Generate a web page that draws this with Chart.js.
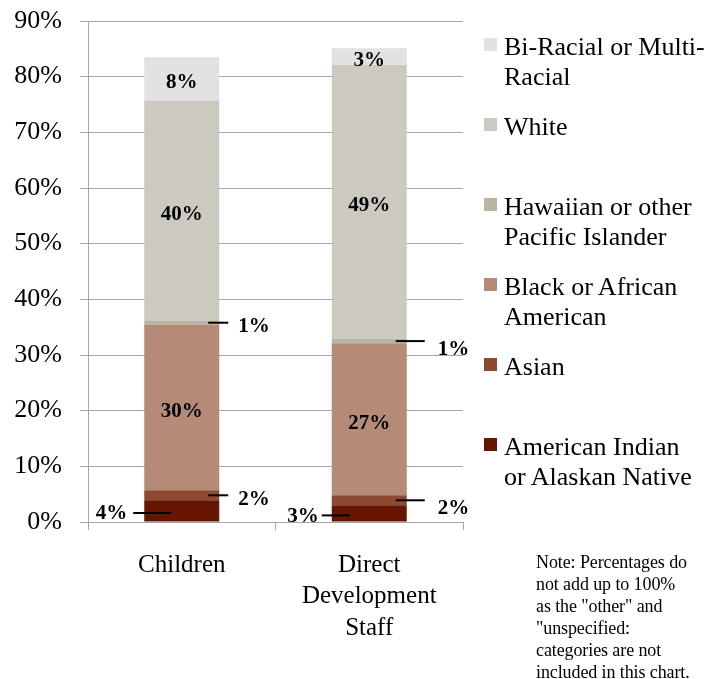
<!DOCTYPE html>
<html lang="en">
<head>
<meta charset="UTF-8">
<title>Race / Ethnicity of Children and Staff</title>
<style>
    body { margin: 0; background: #fff; font-family: "Liberation Serif", "Times New Roman", serif; }
    #wrap { position: relative; width: 723px; height: 679px; }
    #legend { position: absolute; left: 484px; top: 32px; width: 239px; }
    .item { position: absolute; left: 0; height: 80px; width: 239px; }
    .box { position: absolute; left: 0; top: 6px; width: 13px; height: 13px; }
    .txt { position: absolute; left: 20px; top: 0; font-size: 26px; line-height: 30px; white-space: pre; color: #000; }
    #note { position: absolute; left: 536px; top: 551px; font-size: 18px; line-height: 22px; white-space: pre; color: #000; letter-spacing: -0.1px; }
</style>
</head>
<body>
<div id="wrap">
    <canvas id="myChart" width="723" height="679"></canvas>
    <div id="legend"></div>
    <div id="note">Note: Percentages do
not add up to 100%
as the "other" and
"unspecified:
categories are not
included in this chart.</div>
</div>

<script src="https://cdn.jsdelivr.net/npm/chart.js"></script>
<script>
// categories (x axis)
var categories = ['Children', ['Direct', 'Development', 'Staff']];

// series, bottom of the stack first
var seriesNames = [
    'American Indian\nor Alaskan Native',
    'Asian',
    'Black or African\nAmerican',
    'Hawaiian or other\nPacific Islander',
    'White',
    'Bi-Racial or Multi-\nRacial'
];
var americanIndian = [3.9, 3.0];
var asian          = [1.8, 1.8];
var black          = [29.8, 27.3];
var hawaiian       = [0.6, 0.8];
var white          = [39.6, 49.2];
var biRacial       = [7.8, 3.0];

var yTicks = [0, 10, 20, 30, 40, 50, 60, 70, 80, 90];

var colors = ['#661500', '#8c4a33', '#b58a77', '#b9b5a5', '#ccc9c0', '#e2e2e2'];
var allSeries = [americanIndian, asian, black, hawaiian, white, biRacial];
var serif = '"Liberation Serif", "Times New Roman", serif';

// small segments get a leader line and an outside label
var outsideSide = { 0: 'left', 1: 'right', 3: 'right' };
// per-bar offsets for the outside labels (the reference staggers them a bit)
var rightOff = [{ lineEnd: 9, text: 19, dy: 4 }, { lineEnd: 18, text: 31, dy: 8 }];
var leftOff = [{ lineStart: 27, lineEnd: -11, text: -17 }, { lineStart: 18, lineEnd: -10, text: -13 }];

var valueLabels = {
    id: 'valueLabels',
    afterDatasetsDraw: function (chart) {
        var ctx = chart.ctx;
        ctx.save();
        ctx.font = 'bold 21px ' + serif;
        ctx.fillStyle = '#000';
        ctx.strokeStyle = '#000';
        ctx.lineWidth = 2;
        chart.data.datasets.forEach(function (ds, di) {
            var meta = chart.getDatasetMeta(di);
            meta.data.forEach(function (bar, i) {
                var p = bar.getProps(['x', 'y', 'base', 'width'], true);
                var txt = Math.round(ds.data[i]) + '%';
                var cy = (p.y + p.base) / 2;
                var left = p.x - p.width / 2, right = p.x + p.width / 2;
                var side = outsideSide[di];
                ctx.textBaseline = 'middle';
                if (side === 'right') {
                    var o = rightOff[i];
                    ctx.beginPath();
                    ctx.moveTo(right - 11, cy);
                    ctx.lineTo(right + o.lineEnd, cy);
                    ctx.stroke();
                    ctx.textAlign = 'left';
                    ctx.fillText(txt, right + o.text, cy + o.dy);
                } else if (side === 'left') {
                    var l = leftOff[i];
                    ctx.beginPath();
                    ctx.moveTo(left + l.lineStart, cy + 2);
                    ctx.lineTo(left + l.lineEnd, cy + 2);
                    ctx.stroke();
                    ctx.textAlign = 'right';
                    ctx.fillText(txt, left + l.text, cy + 3);
                } else {
                    ctx.textAlign = 'center';
                    ctx.fillText(txt, p.x, cy + 4);
                }
            });
        });
        ctx.restore();
    }
};

var datasets = allSeries.map(function (vals, k) {
    return {
        label: seriesNames[k],
        data: vals,
        backgroundColor: colors[k],
        borderWidth: 0,
        barPercentage: 0.4,
        categoryPercentage: 1.0
    };
});

var ctx = document.getElementById('myChart').getContext('2d');
window.myChart = new Chart(ctx, {
    type: 'bar',
    data: { labels: categories, datasets: datasets },
    options: {
        responsive: false,
        animation: false,
        layout: { padding: { left: 0, right: 260, top: 21, bottom: 0 } },
        plugins: { legend: { display: false }, tooltip: { enabled: false } },
        scales: {
            x: {
                stacked: true,
                grid: { drawOnChartArea: false, color: '#a6a6a6', tickLength: 8 },
                border: { color: '#a6a6a6' },
                ticks: { color: '#000', font: { family: serif, size: 25, lineHeight: 1.25 }, padding: 20 },
                afterFit: function (s) { s.height = 157; s.paddingLeft = 0; s.paddingRight = 0; }
            },
            y: {
                stacked: true,
                min: yTicks[0],
                max: yTicks[yTicks.length - 1],
                afterBuildTicks: function (s) { s.ticks = yTicks.map(function (v) { return { value: v }; }); },
                ticks: {
                    color: '#000',
                    font: { family: serif, size: 26 },
                    padding: 18,
                    callback: function (v) { return v + '%'; }
                },
                grid: { color: '#a6a6a6', tickLength: 8 },
                border: { color: '#a6a6a6' },
                afterFit: function (s) { s.width = 88; s.paddingTop = 0; s.paddingBottom = 0; }
            }
        }
    },
    plugins: [valueLabels]
});

// legend, top series first, one 80px slot each
var legend = document.getElementById('legend');
for (var k = seriesNames.length - 1, slot = 0; k >= 0; k--, slot++) {
    var item = document.createElement('div');
    item.className = 'item';
    item.style.top = (slot * 80) + 'px';
    item.innerHTML = '<div class="box" style="background:' + colors[k] + '"></div>';
    var t = document.createElement('div');
    t.className = 'txt';
    t.textContent = seriesNames[k];
    item.appendChild(t);
    legend.appendChild(item);
}
</script>
</body>
</html>
